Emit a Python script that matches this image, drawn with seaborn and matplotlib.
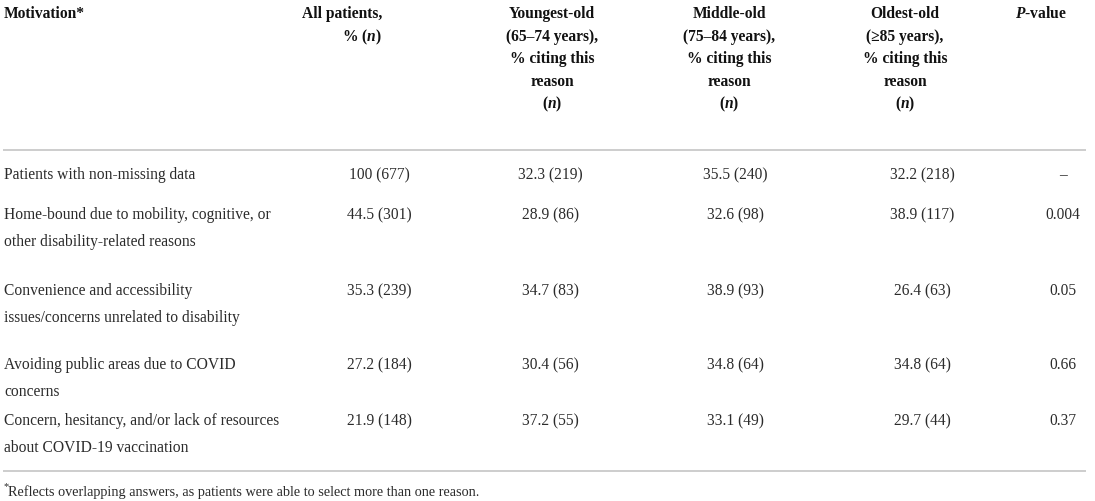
import matplotlib
matplotlib.use("Agg")
import matplotlib.pyplot as plt
import seaborn as sns

# ---- data ----
header_motivation = "Motivation*"
header_cols = [
    ["All patients,", "% ($n$)"],
    ["Youngest-old", "(65–74 years),", "% citing this", "reason", "($n$)"],
    ["Middle-old", "(75–84 years),", "% citing this", "reason", "($n$)"],
    ["Oldest-old", "(≥85 years),", "% citing this", "reason", "($n$)"],
    ["$P$-value"],
]
motivations = [
    ["Patients with non-missing data"],
    ["Home-bound due to mobility, cognitive, or", "other disability-related reasons"],
    ["Convenience and accessibility", "issues/concerns unrelated to disability"],
    ["Avoiding public areas due to COVID", "concerns"],
    ["Concern, hesitancy, and/or lack of resources", "about COVID-19 vaccination"],
]
all_patients = ["100 (677)", "44.5 (301)", "35.3 (239)", "27.2 (184)", "21.9 (148)"]
youngest_old = ["32.3 (219)", "28.9 (86)", "34.7 (83)", "30.4 (56)", "37.2 (55)"]
middle_old = ["35.5 (240)", "32.6 (98)", "38.9 (93)", "34.8 (64)", "33.1 (49)"]
oldest_old = ["32.2 (218)", "38.9 (117)", "26.4 (63)", "34.8 (64)", "29.7 (44)"]
p_values = ["–", "0.004", "0.05", "0.66", "0.37"]
footnote = "Reflects overlapping answers, as patients were able to select more than one reason."

# ---- style ----
sns.set_theme(style="white")
plt.rcParams["font.family"] = ["Liberation Serif", "DejaVu Serif"]
plt.rcParams["mathtext.fontset"] = "custom"
plt.rcParams["mathtext.rm"] = "Liberation Serif:bold"
plt.rcParams["mathtext.bf"] = "Liberation Serif:bold"
plt.rcParams["mathtext.it"] = "Liberation Serif:italic:bold"

W, H = 1095, 502
fig = plt.figure(figsize=(W / 100, H / 100), dpi=100)
ax = fig.add_axes([0, 0, 1, 1])
ax.set_xlim(0, W)
ax.set_ylim(H, 0)
ax.axis("off")

FS = 11.2
HEAD_COLOR = "#111111"
BODY_COLOR = "#2b2b2b"
RULE_COLOR = "#c9c9c9"

# header
head_y = [14, 37, 59, 82, 104]
ax.text(4, head_y[0], header_motivation, fontsize=FS, fontweight="bold",
        color=HEAD_COLOR, ha="left", va="center")
head_x = [382, 552, 729, 905, 1041]
head_ha = ["right", "center", "center", "center", "center"]
for col, x, ha in zip(header_cols, head_x, head_ha):
    for i, line in enumerate(col):
        ax.text(x, head_y[i], line, fontsize=FS, fontweight="bold",
                color=HEAD_COLOR, ha=ha, va="center")

# rules
ax.hlines([151, 472], 3, 1086, color=RULE_COLOR, linewidth=1.3)

# body
row_y = [175, 215, 291, 365, 421]
line_gap = 27
data_cols = [all_patients, youngest_old, middle_old, oldest_old, p_values]
data_x = [379, 550, 735, 922, 1063]
for r, lines in enumerate(motivations):
    for i, line in enumerate(lines):
        ax.text(4, row_y[r] + i * line_gap, line, fontsize=FS, color=BODY_COLOR,
                ha="left", va="center")
    for col, x in zip(data_cols, data_x):
        ax.text(x, row_y[r], col[r], fontsize=FS, color=BODY_COLOR,
                ha="center", va="center")

# footnote
ax.text(3, 487, "*", fontsize=7.5, color=BODY_COLOR, ha="left", va="center")
ax.text(8, 492, footnote, fontsize=10.3, color=BODY_COLOR, ha="left", va="center")

fig.savefig("out.png", dpi=100)
